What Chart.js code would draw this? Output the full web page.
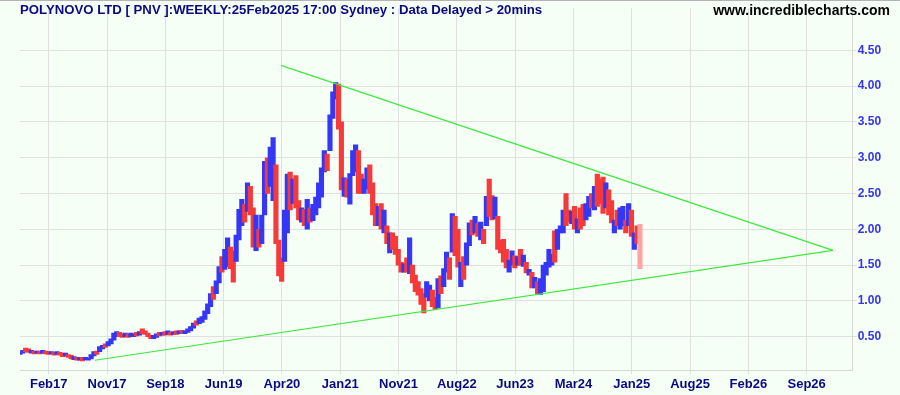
<!DOCTYPE html>
<html>
<head>
<meta charset="utf-8">
<script src="https://cdn.jsdelivr.net/npm/chart.js@4"></script>
<style>
  html, body { margin: 0; padding: 0; background: #f6fff6; }
  #chart { display: block; }
</style>
</head>
<body>
<canvas id="chart" width="900" height="395"></canvas>
<script>
// PolyNovo (PNV) weekly bars, two weeks per bar, x in weeks from first bar

var barLows = [
  0.25, 0.27, 0.29, 0.28, 0.27, 0.26, 0.27, 0.26, 0.27, 0.26,
  0.25, 0.26, 0.24, 0.25, 0.24, 0.22, 0.23, 0.21, 0.19, 0.18,
  0.17, 0.17, 0.16, 0.18, 0.17, 0.19, 0.23, 0.25, 0.29, 0.33,
  0.35, 0.37, 0.40, 0.45, 0.50, 0.50, 0.49, 0.50, 0.49, 0.50,
  0.50, 0.51, 0.52, 0.54, 0.53, 0.50, 0.47, 0.47, 0.49, 0.51,
  0.52, 0.52, 0.53, 0.52, 0.53, 0.53, 0.54, 0.55, 0.54, 0.56,
  0.58, 0.62, 0.66, 0.68, 0.70, 0.74, 0.82, 0.92, 1.02, 1.10,
  1.25, 1.40, 1.44, 1.48, 1.45, 1.26, 1.55, 1.85, 2.05, 2.10,
  2.25, 2.20, 1.75, 1.70, 1.75, 1.80, 2.20, 2.50, 2.60, 2.40,
  1.80, 1.35, 1.27, 1.55, 1.95, 2.27, 2.36, 2.30, 2.13, 2.10,
  2.05, 2.00, 2.10, 2.12, 2.20, 2.30, 2.45, 2.80, 2.82, 3.10,
  3.55, 3.82, 3.40, 2.55, 2.46, 2.45, 2.35, 2.75, 2.80, 2.50,
  2.50, 2.50, 2.56, 2.50, 2.20, 2.05, 2.05, 2.00, 1.95, 1.80,
  1.67, 1.72, 1.65, 1.50, 1.40, 1.40, 1.40, 1.38, 1.25, 1.13,
  1.08, 0.95, 0.83, 1.05, 1.00, 0.92, 0.88, 0.90, 1.10, 1.20,
  1.40, 1.30, 1.68, 1.63, 1.47, 1.20, 1.30, 1.50, 1.77, 1.92,
  1.95, 1.90, 1.85, 1.80, 2.05, 2.18, 2.13, 2.15, 1.72, 1.67,
  1.54, 1.46, 1.40, 1.50, 1.46, 1.50, 1.50, 1.48, 1.39, 1.36,
  1.18, 1.18, 1.10, 1.09, 1.13, 1.36, 1.47, 1.50, 1.54, 1.72,
  1.95, 1.95, 2.05, 2.10, 2.08, 2.00, 1.95, 2.00, 2.05, 2.13,
  2.18, 2.30, 2.27, 2.32, 2.36, 2.22, 2.30, 2.20, 2.09, 1.95,
  2.05, 2.00, 2.05, 1.95, 2.05, 1.90, 1.72, 1.80, 1.45
];

var barHighs = [
  0.29, 0.31, 0.34, 0.33, 0.31, 0.30, 0.30, 0.30, 0.31, 0.30,
  0.29, 0.29, 0.28, 0.29, 0.28, 0.27, 0.27, 0.25, 0.24, 0.22,
  0.21, 0.21, 0.21, 0.21, 0.20, 0.25, 0.29, 0.30, 0.36, 0.38,
  0.40, 0.43, 0.47, 0.55, 0.57, 0.56, 0.54, 0.55, 0.54, 0.55,
  0.54, 0.56, 0.57, 0.61, 0.58, 0.55, 0.52, 0.52, 0.54, 0.56,
  0.56, 0.57, 0.58, 0.56, 0.57, 0.58, 0.58, 0.59, 0.58, 0.61,
  0.64, 0.69, 0.72, 0.76, 0.78, 0.86, 0.96, 1.10, 1.20, 1.28,
  1.48, 1.62, 1.72, 1.88, 1.75, 1.70, 1.92, 2.28, 2.42, 2.35,
  2.65, 2.60, 2.30, 2.20, 2.00, 2.20, 2.95, 3.00, 3.15, 3.28,
  2.90, 1.85, 1.60, 2.27, 2.77, 2.80, 2.70, 2.75, 2.40, 2.30,
  2.28, 2.42, 2.30, 2.35, 2.45, 2.65, 2.86, 3.10, 3.05, 3.60,
  3.92, 4.05, 4.03, 3.50, 2.72, 2.70, 2.78, 3.10, 3.18, 3.10,
  2.77, 2.70, 2.86, 2.90, 2.65, 2.36, 2.32, 2.36, 2.27, 2.05,
  1.95, 1.95, 1.90, 1.72, 1.54, 1.52, 1.60, 1.88, 1.50, 1.36,
  1.27, 1.17, 1.10, 1.27, 1.22, 1.15, 1.05, 1.31, 1.35, 1.45,
  1.68, 1.60, 2.22, 2.18, 2.00, 1.54, 1.62, 1.81, 2.09, 2.13,
  2.18, 2.08, 2.10, 2.00, 2.46, 2.70, 2.47, 2.45, 2.18, 1.85,
  1.86, 1.72, 1.57, 1.70, 1.63, 1.62, 1.72, 1.64, 1.54, 1.44,
  1.40, 1.33, 1.27, 1.31, 1.50, 1.54, 1.72, 1.65, 1.98, 2.00,
  2.05, 2.27, 2.50, 2.27, 2.25, 2.32, 2.15, 2.30, 2.35, 2.36,
  2.46, 2.50, 2.60, 2.77, 2.70, 2.73, 2.65, 2.55, 2.40, 2.13,
  2.27, 2.30, 2.32, 2.13, 2.36, 2.27, 1.95, 2.05, 2.07
];

// u = up week (blue), d = down week (red), c = current week (pink)
var barDirs = [
  'u','u','d','d','u','d','u','d','u','d',
  'd','u','d','u','d','d','u','d','d','u',
  'd','u','d','u','u','u','u','d','u','u',
  'd','u','u','u','u','d','d','u','d','u',
  'u','d','u','d','d','d','d','u','u','d',
  'u','d','u','d','u','d','u','d','u','u',
  'u','u','d','u','u','u','u','u','d','u',
  'u','d','u','u','d','d','u','u','u','d',
  'u','d','d','u','d','u','u','d','u','u',
  'd','d','d','u','u','d','u','d','d','u',
  'd','u','d','u','u','u','u','u','d','u',
  'u','u','d','d','u','d','u','u','u','d',
  'd','u','u','d','d','d','u','d','u','d',
  'u','d','d','d','d','u','d','u','d','d',
  'd','d','d','u','u','d','d','u','d','u',
  'u','d','u','d','d','u','d','u','u','d',
  'u','d','u','d','u','d','d','u','d','d',
  'd','d','u','u','d','u','d','u','d','u',
  'd','u','d','u','u','u','u','u','d','u',
  'u','u','d','d','u','d','u','d','d','u',
  'u','d','u','d','d','d','u','d','d','u',
  'd','u','u','d','u','d','u','d','c'
];

var weeksPerBar = 2;

// time axis labels, one every 41 weeks
var tickLabels = ['Feb17', 'Nov17', 'Sep18', 'Jun19', 'Apr20', 'Jan21', 'Nov21',
                  'Aug22', 'Jun23', 'Mar24', 'Jan25', 'Aug25', 'Feb26', 'Sep26'];
var firstTickWeek = 20.2;
var tickWeekStep = 41;

var priceTicks = [0.5, 1.0, 1.5, 2.0, 2.5, 3.0, 3.5, 4.0, 4.5];

// hand drawn trend lines (week, price)
var upperTrend = [{ x: 183.5, y: 4.29 }, { x: 571.7, y: 1.705 }];
var lowerTrend = [{ x: 52.7, y: 0.17 }, { x: 571.7, y: 1.705 }];

var dirColors = { u: '#3636f6', d: '#f63a3a', c: '#ffa3a3' };

var barPoints = [];
var barColors = [];
for (var i = 0; i < barLows.length; i++) {
  barPoints.push({ x: i * weeksPerBar, y: [barLows[i], barHighs[i]] });
  barColors.push(dirColors[barDirs[i]]);
}

var tickWeeks = [];
for (var k = 0; k < tickLabels.length; k++) {
  tickWeeks.push(firstTickWeek + k * tickWeekStep);
}

var NAVY = '#0a0a80';
var FONT = '"Liberation Sans", Arial, sans-serif';

var frame = {
  id: 'frame',
  beforeDraw: function(chart) {
    var ctx = chart.ctx;
    ctx.save();
    ctx.fillStyle = '#f6fff6';
    ctx.fillRect(0, 0, chart.width, chart.height);
    ctx.restore();
  },
  afterDraw: function(chart) {
    var ctx = chart.ctx;
    ctx.save();
    ctx.strokeStyle = '#b4b4b4';
    ctx.lineWidth = 1;
    ctx.beginPath();
    ctx.moveTo(0, 0.5);
    ctx.lineTo(chart.width, 0.5);
    ctx.stroke();

    ctx.textBaseline = 'alphabetic';
    ctx.fillStyle = NAVY;
    ctx.font = 'bold 13.2px ' + FONT;
    ctx.textAlign = 'left';
    ctx.fillText('POLYNOVO LTD [ PNV ]:WEEKLY:25Feb2025 17:00 Sydney : Data Delayed > 20mins', 20, 14);

    ctx.fillStyle = '#000000';
    ctx.font = 'bold 14px ' + FONT;
    ctx.textAlign = 'right';
    ctx.fillText('www.incrediblecharts.com', 890, 15);
    ctx.restore();
  }
};

new Chart(document.getElementById('chart'), {
  type: 'bar',
  data: {
    datasets: [
      {
        type: 'line',
        data: upperTrend,
        borderColor: '#3ee83e',
        borderWidth: 1.2,
        pointRadius: 0,
        order: 0
      },
      {
        type: 'line',
        data: lowerTrend,
        borderColor: '#3ee83e',
        borderWidth: 1.2,
        pointRadius: 0,
        order: 0
      },
      {
        data: barPoints,
        backgroundColor: barColors,
        borderWidth: 0,
        barThickness: 4.5,
        grouped: false,
        order: 1
      }
    ]
  },
  options: {
    responsive: false,
    animation: false,
    devicePixelRatio: 1,
    layout: { padding: { left: 20, top: 1, right: 0, bottom: 0 } },
    plugins: { legend: { display: false }, tooltip: { enabled: false } },
    scales: {
      x: {
        type: 'linear',
        offset: false,
        min: 0,
        max: 585.6,
        afterBuildTicks: function(axis) {
          axis.ticks = tickWeeks.map(function(w) { return { value: w }; });
        },
        afterFit: function(axis) { axis.height = 25; },
        grid: { color: '#e0e0e0', tickLength: 4, offset: false },
        border: { color: '#d8d8d8' },
        ticks: {
          autoSkip: false,
          maxRotation: 0,
          padding: 3,
          color: NAVY,
          font: { family: FONT, size: 13, weight: 'bold' },
          callback: function(value, index) { return tickLabels[index]; }
        }
      },
      y: {
        position: 'right',
        min: 0.034,
        max: 5.089,
        afterBuildTicks: function(axis) {
          axis.ticks = priceTicks.map(function(v) { return { value: v }; });
        },
        afterFit: function(axis) { axis.width = 47.3; },
        grid: { color: '#e0e0e0', tickLength: 4 },
        border: { color: '#d8d8d8' },
        ticks: {
          padding: 1,
          color: '#3434f0',
          font: { family: FONT, size: 12, weight: 'bold' },
          callback: function(value) { return value.toFixed(2); }
        }
      }
    }
  },
  plugins: [frame]
});
</script>
</body>
</html>
